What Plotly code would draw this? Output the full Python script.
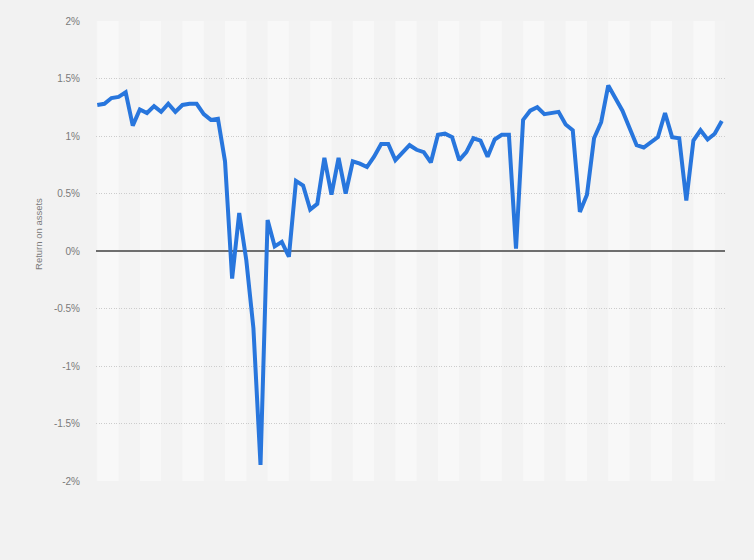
import plotly.graph_objects as go

# Quarterly categories (Q1 2003 - Q1 2025)
quarters = [f"Q{q} {y}" for y in range(2003, 2026) for q in range(1, 5)][:89]

# Return on assets (%)
roa = [1.27, 1.28, 1.33, 1.34, 1.38, 1.09, 1.23, 1.20, 1.26, 1.21,
       1.28, 1.21, 1.27, 1.28, 1.28, 1.19, 1.14, 1.15, 0.78, -0.24,
       0.33, -0.08, -0.67, -1.86, 0.27, 0.04, 0.08, -0.05, 0.61, 0.57,
       0.36, 0.41, 0.81, 0.49, 0.81, 0.50, 0.78, 0.76, 0.73, 0.82,
       0.93, 0.93, 0.79, 0.86, 0.92, 0.88, 0.86, 0.77, 1.01, 1.02,
       0.99, 0.79, 0.86, 0.98, 0.96, 0.82, 0.97, 1.01, 1.01, 0.02,
       1.14, 1.22, 1.25, 1.19, 1.20, 1.21, 1.10, 1.05, 0.34, 0.49,
       0.98, 1.12, 1.44, 1.33, 1.22, 1.07, 0.92, 0.90, 0.94, 0.99,
       1.20, 0.99, 0.98, 0.44, 0.96, 1.05, 0.97, 1.02, 1.13]

tick_values = [2, 1.5, 1, 0.5, 0, -0.5, -1, -1.5, -2]
tick_labels = ["2%", "1.5%", "1%", "0.5%", "0%", "-0.5%", "-1%", "-1.5%", "-2%"]

idx = list(range(len(roa)))

fig = go.Figure()
fig.add_trace(go.Scatter(
    x=idx, y=roa, mode="lines",
    line=dict(color="#2876dd", width=4),
    text=quarters, hovertemplate="%{text}: %{y}%<extra></extra>",
))

# alternating background bands (every 3 categories)
shapes = []
for k in range(0, (len(roa) + 2) // 3 + 1):
    if k % 2 == 0:
        shapes.append(dict(type="rect", xref="x", yref="paper",
                           x0=3 * k, x1=3 * k + 3, y0=0, y1=1,
                           fillcolor="#f8f8f8", line=dict(width=0),
                           layer="below"))

fig.update_layout(
    width=754, height=560,
    margin=dict(l=96, r=29, t=21, b=79),
    paper_bgcolor="#f2f2f2",
    plot_bgcolor="#f3f3f3",
    showlegend=False,
    shapes=shapes,
    font=dict(family="Liberation Sans, Arial, sans-serif", color="#666666"),
    xaxis=dict(range=[-0.18, 88.45], showgrid=False, zeroline=False,
               showticklabels=False, ticks="", showline=False),
    yaxis=dict(range=[-2, 2], tickvals=tick_values, ticktext=tick_labels,
               showgrid=True, gridcolor="#cccccc", griddash="1px,1.5px", gridwidth=1,
               zeroline=True, zerolinecolor="#6e6e6e", zerolinewidth=2,
               tickfont=dict(size=10, color="#7a7a7a"),
               ticklabelstandoff=15, showline=False, ticks=""),
    annotations=[dict(text="Return on assets", textangle=-90,
                      xref="paper", yref="paper", x=0, y=0.537,
                      xanchor="center", yanchor="middle", xshift=-57,
                      showarrow=False, font=dict(size=9.5, color="#7a7a7a"))],
)

fig.write_html("out.html", config={"displayModeBar": False},
               post_script="document.body.style.margin='0';document.body.style.padding='0';document.body.style.background='#f2f2f2';")
